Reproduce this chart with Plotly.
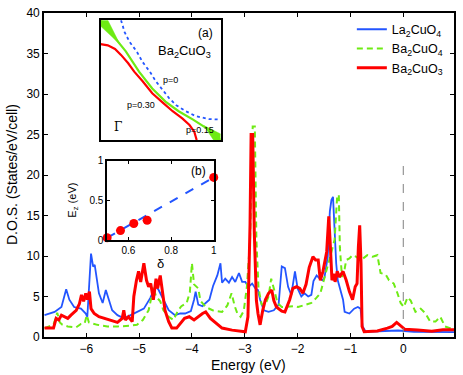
import plotly.graph_objects as go

# main D.O.S. curves
la_e = [-6.79, -6.60, -6.47, -6.38, -6.32, -6.23, -6.10, -6.01, -5.98, -5.91, -5.87, -5.84, -5.76, -5.69,
        -5.63, -5.57, -5.51, -5.41, -5.29, -5.16, -5.04, -4.91, -4.79, -4.69, -4.63, -4.54, -4.44, -4.32,
        -4.22, -4.13, -4.02, -3.96, -3.93, -3.88, -3.80, -3.74, -3.67, -3.60, -3.52, -3.46, -3.43, -3.37,
        -3.30, -3.24, -3.18, -3.11, -3.05, -2.99, -2.93, -2.86, -2.80, -2.75, -2.71, -2.64, -2.55, -2.45,
        -2.36, -2.30, -2.24, -2.18, -2.12, -2.05, -2.00, -1.93, -1.87, -1.80, -1.74, -1.70, -1.64, -1.58,
        -1.52, -1.49, -1.43, -1.39, -1.36, -1.33, -1.30, -1.27, -1.24, -1.18, -1.14, -1.11, -1.02, -0.93,
        -0.86, -0.81, -0.77, -0.71, -0.40, -0.10, 0.20, 0.60, 0.96]
la_dos = [2.7, 3.1, 3.7, 5.9, 4.6, 3.7, 3.5, 2.9, 2.5, 10.3, 8.7, 8.9, 5.4, 4.2,
          5.8, 4.4, 3.3, 2.7, 2.3, 2.7, 3.1, 3.5, 4.8, 6.3, 5.8, 4.6, 3.3, 2.7,
          2.9, 2.9, 3.2, 4.6, 5.6, 4.0, 3.8, 4.2, 4.6, 6.3, 7.6, 9.1, 6.7, 7.2,
          6.7, 7.4, 6.8, 7.9, 6.8, 6.8, 6.2, 6.6, 6.0, 5.8, 4.6, 3.3, 3.1, 3.3,
          4.0, 8.7, 8.5, 6.2, 5.2, 8.1, 6.0, 5.0, 5.4, 5.0, 5.2, 6.9, 7.6, 7.2,
          7.0, 7.4, 9.9, 15.5, 16.9, 17.3, 13.2, 9.1, 7.0, 5.4, 4.6, 3.1, 2.9, 3.5,
          3.7, 3.5, 1.3, 0.65, 0.7, 0.8, 0.65, 0.6, 0.6]

ba4_e = [-6.79, -6.70, -6.62, -6.55, -6.50, -6.45, -6.35, -6.19, -6.10, -6.03, -5.99, -5.95, -5.85, -5.79,
         -5.60, -5.41, -5.16, -5.04, -4.93, -4.82, -4.77, -4.73, -4.68, -4.60, -4.54, -4.44, -4.35, -4.26,
         -4.20, -4.10, -4.04, -4.00, -3.96, -3.88, -3.84, -3.74, -3.61, -3.43, -3.33, -3.25, -3.19, -3.14,
         -3.08, -3.02, -2.96, -2.90, -2.85, -2.81, -2.78, -2.74, -2.68, -2.61, -2.55, -2.50, -2.45, -2.38,
         -2.30, -2.17, -2.05, -1.99, -1.87, -1.74, -1.65, -1.57, -1.52, -1.45, -1.36, -1.30, -1.25, -1.22,
         -1.20, -1.16, -1.11, -1.08, -1.02, -0.96, -0.89, -0.80, -0.68, -0.58, -0.49, -0.43, -0.33, -0.27,
         -0.18, -0.11, -0.05, 0.01, 0.08, 0.14, 0.23, 0.33, 0.42, 0.51, 0.61, 0.70, 0.79, 0.96]
ba4_dos = [1.1, 1.3, 1.5, 3.0, 1.8, 1.5, 1.3, 1.2, 1.6, 1.7, 2.7, 1.8, 1.6, 1.5,
           1.3, 1.3, 1.4, 1.5, 2.1, 3.3, 4.8, 6.2, 5.0, 4.4, 3.3, 2.5, 2.1, 3.3,
           3.8, 4.2, 5.5, 9.1, 6.5, 6.0, 4.5, 3.7, 3.3, 3.1, 3.9, 5.4, 3.8, 2.9,
           2.5, 3.2, 6.2, 12.0, 26.0, 26.0, 12.0, 6.0, 4.0, 4.0, 5.0, 7.2, 6.0, 4.2,
           3.7, 3.8, 3.8, 3.7, 3.9, 4.2, 4.8, 5.4, 6.6, 8.2, 10.5, 12.0, 17.5, 17.5,
           11.0, 7.4, 8.4, 9.5, 9.7, 10.1, 9.9, 9.5, 10.1, 9.9, 10.1, 7.9, 7.7, 7.0,
           6.6, 5.4, 4.2, 3.7, 4.9, 4.5, 3.1, 3.5, 2.9, 1.9, 1.9, 2.5, 1.3, 0.9]

ba3_e = [-6.79, -6.62, -6.57, -6.52, -6.47, -6.35, -6.29, -6.19, -6.13, -6.09, -6.05, -6.01, -5.98, -5.94,
         -5.91, -5.85, -5.76, -5.66, -5.54, -5.41, -5.32, -5.29, -5.26, -5.20, -5.13, -5.10, -5.05, -5.01,
         -4.97, -4.91, -4.86, -4.82, -4.78, -4.73, -4.68, -4.65, -4.60, -4.55, -4.51, -4.44, -4.38, -4.29,
         -4.22, -4.14, -4.05, -3.96, -3.80, -3.74, -3.65, -3.55, -3.43, -3.24, -3.05, -2.99, -2.94, -2.90,
         -2.88, -2.85, -2.82, -2.78, -2.75, -2.71, -2.66, -2.61, -2.55, -2.49, -2.45, -2.40, -2.30, -2.24,
         -2.15, -2.09, -2.02, -1.96, -1.90, -1.84, -1.78, -1.71, -1.66, -1.61, -1.57, -1.52, -1.45, -1.41,
         -1.38, -1.35, -1.31, -1.29, -1.25, -1.21, -1.14, -1.08, -1.02, -0.96, -0.91, -0.875, -0.85, -0.825,
         -0.80, -0.78, -0.74, -0.49, -0.30, -0.21, -0.125, -0.05, 0.03, 0.27, 0.54, 0.75, 0.96]
ba3_dos = [1.1, 1.1, 2.3, 2.1, 2.7, 2.3, 2.7, 3.3, 4.1, 5.2, 4.4, 5.4, 4.6, 5.6,
           3.5, 2.9, 2.5, 2.3, 2.1, 1.8, 2.3, 3.3, 2.1, 2.5, 1.9, 5.0, 7.0, 8.1,
           6.8, 9.1, 7.0, 6.2, 6.6, 4.6, 7.2, 6.0, 7.6, 5.0, 3.3, 1.9, 1.1, 1.1,
           1.7, 2.3, 2.5, 2.1, 2.9, 3.1, 2.3, 1.8, 1.1, 0.85, 0.7, 0.65, 2.5, 14.0,
           25.0, 25.0, 13.0, 4.5, 2.9, 1.5, 3.3, 4.6, 5.4, 5.8, 4.5, 3.7, 3.2, 3.1,
           4.6, 6.0, 6.2, 6.0, 5.4, 6.5, 8.6, 9.9, 9.5, 9.5, 7.0, 8.1, 10.5, 14.9,
           11.2, 7.0, 7.8, 6.8, 8.1, 7.4, 8.1, 7.0, 5.6, 4.6, 6.2, 6.6, 11.1, 13.8,
           9.1, 1.3, 0.65, 0.75, 1.1, 1.3, 1.8, 1.4, 0.95, 0.85, 0.7, 0.9, 0.9]

# inset (a): Fermi surfaces in a unit quadrant
fs0_u = [0.17, 0.20, 0.24, 0.30, 0.35, 0.41, 0.46, 0.52, 0.57, 0.63, 0.71, 0.79, 0.90, 1.0]
fs0_v = [1.0, 0.90, 0.82, 0.74, 0.65, 0.57, 0.49, 0.41, 0.35, 0.29, 0.24, 0.20, 0.175, 0.17]
fs15_u = [0.0, 0.10, 0.21, 0.32, 0.43, 0.54, 0.65, 0.77, 0.88, 1.0]
fs15_v = [1.0, 0.875, 0.74, 0.57, 0.43, 0.32, 0.24, 0.17, 0.10, 0.0]
fs30_u = [0.0, 0.06, 0.12, 0.17, 0.23, 0.28, 0.35, 0.43, 0.52, 0.60, 0.68, 0.74, 0.78, 0.80]
fs30_v = [0.8, 0.79, 0.76, 0.71, 0.64, 0.57, 0.49, 0.39, 0.31, 0.24, 0.18, 0.125, 0.07, 0.0]
wedge_u = [0.0, 0.06, 0.16, 0.0, None, 1.0, 0.94, 0.86, 1.0]
wedge_v = [1.0, 1.0, 0.80, 0.95, None, 0.0, 0.0, 0.12, 0.05]

# inset (b): E_z versus delta
delta = [0.5, 0.5625, 0.625, 0.6875, 1.0]
ez = [0.03, 0.12, 0.21, 0.25, 0.79]
fit_delta = [0.5, 1.0]
fit_ez = [0.03, 0.79]

BLUE = 'rgb(35,85,255)'
GREEN = 'rgb(110,235,20)'
RED = 'rgb(255,0,0)'
FONT = 'Liberation Sans, Arial, sans-serif'

fig = go.Figure()
fig.add_scatter(x=la_e, y=la_dos, mode='lines', name='La<sub>2</sub>CuO<sub>4</sub>',
                line=dict(color=BLUE, width=1.8))
fig.add_scatter(x=ba4_e, y=ba4_dos, mode='lines', name='Ba<sub>2</sub>CuO<sub>4</sub>',
                line=dict(color=GREEN, width=2, dash='6px,4px'))
fig.add_scatter(x=ba3_e, y=ba3_dos, mode='lines', name='Ba<sub>2</sub>CuO<sub>3</sub>',
                line=dict(color=RED, width=3))
fig.add_scatter(x=[0, 0], y=[0, 22], mode='lines', showlegend=False,
                line=dict(color='gray', width=1, dash='dash'))

# inset (a)
fig.add_scatter(x=wedge_u, y=wedge_v, mode='lines', fill='toself', fillcolor=GREEN,
                line=dict(color=GREEN, width=0.5), xaxis='x2', yaxis='y2', showlegend=False)
fig.add_scatter(x=fs0_u, y=fs0_v, mode='lines', line=dict(color=BLUE, width=1.8, dash='dot'),
                xaxis='x2', yaxis='y2', showlegend=False)
fig.add_scatter(x=fs15_u, y=fs15_v, mode='lines', line=dict(color=GREEN, width=2.2),
                xaxis='x2', yaxis='y2', showlegend=False)
fig.add_scatter(x=fs30_u, y=fs30_v, mode='lines', line=dict(color=RED, width=2.2),
                xaxis='x2', yaxis='y2', showlegend=False)

# inset (b)
fig.add_scatter(x=fit_delta, y=fit_ez, mode='lines', line=dict(color=BLUE, width=2, dash='dash'),
                xaxis='x3', yaxis='y3', showlegend=False)
fig.add_scatter(x=delta, y=ez, mode='markers', marker=dict(color=RED, size=9),
                xaxis='x3', yaxis='y3', showlegend=False, cliponaxis=False)

frame = dict(showline=True, linecolor='black', linewidth=1.6, mirror='ticks', ticks='inside',
             ticklen=4, tickcolor='black', showgrid=False, zeroline=False)

fig.update_layout(
    width=463, height=375,
    margin=dict(l=44, r=6, t=13, b=38),
    plot_bgcolor='white', paper_bgcolor='white',
    font=dict(family=FONT, size=12, color='black'),
    xaxis=dict(frame, range=[-6.8, 0.96], dtick=1, domain=[0, 1]),
    yaxis=dict(frame, range=[0, 40], dtick=5, domain=[0, 1]),
    xaxis2=dict(frame, range=[0, 1], domain=[0.138, 0.431], anchor='y2', ticks='',
                showticklabels=False),
    yaxis2=dict(frame, range=[0, 1], domain=[0.608, 0.978], anchor='x2', ticks='',
                showticklabels=False),
    xaxis3=dict(frame, range=[0.5, 1], tickvals=[0.6, 0.8, 1], ticktext=['0.6', '0.8', '1'],
                domain=[0.154, 0.414], anchor='y3', tickfont=dict(size=10), ticklen=3),
    yaxis3=dict(frame, range=[0, 1], tickvals=[0, 0.5, 1], ticktext=['0', '0.5', '1'],
                domain=[0.299, 0.544], anchor='x3', tickfont=dict(size=10), ticklen=3),
    legend=dict(x=0.985, y=0.995, xanchor='right', yanchor='top', bgcolor='rgba(0,0,0,0)',
                font=dict(size=12.5), itemwidth=30, tracegroupgap=0),
    showlegend=True,
)

ann = [
    dict(text='Energy (eV)', x=0.499, y=-0.085, xref='paper', yref='paper', font=dict(size=14)),
    dict(text='D.O.S. (States/eV/cell)', x=-0.078, y=0.5, xref='paper', yref='paper',
         textangle=-90, font=dict(size=14)),
    dict(text='E<sub>z</sub> (eV)', x=0.070, y=0.423, xref='paper', yref='paper',
         textangle=-90, font=dict(size=11)),
    dict(text='δ', x=0.283, y=0.228, xref='paper', yref='paper', font=dict(size=13)),
    dict(text='(b)', x=0.93, y=0.87, xref='x3', yref='y3', font=dict(size=12)),
    dict(text='(a)', x=0.875, y=0.89, xref='x2', yref='y2', font=dict(size=12)),
    dict(text='Ba<sub>2</sub>CuO<sub>3</sub>', x=0.70, y=0.74, xref='x2', yref='y2', font=dict(size=13)),
    dict(text='p=0', x=0.585, y=0.50, xref='x2', yref='y2', font=dict(size=9)),
    dict(text='p=0.30', x=0.34, y=0.29, xref='x2', yref='y2', font=dict(size=9)),
    dict(text='p=0.15', x=0.83, y=0.08, xref='x2', yref='y2', font=dict(size=9)),
    dict(text='Γ', x=0.145, y=0.11, xref='x2', yref='y2', font=dict(size=12, family='DejaVu Serif')),
]
for a in ann:
    a.setdefault('showarrow', False)
    a.setdefault('xanchor', 'center')
    a.setdefault('yanchor', 'middle')
fig.update_layout(annotations=ann)

# drop the page's default body margin so the figure fills the window
fig.write_html("out.html", config={'displayModeBar': False},
               post_script="document.body.style.margin='0px';")
